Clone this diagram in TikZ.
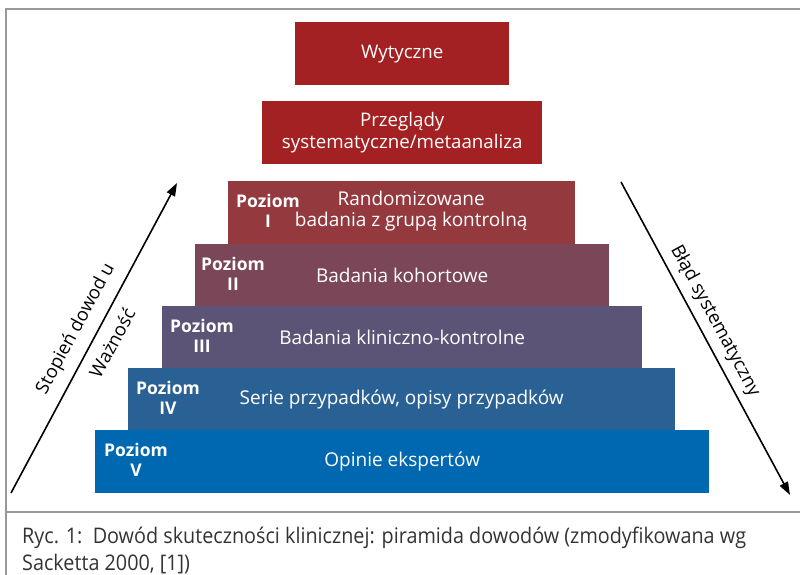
\documentclass[tikz,border=0pt]{standalone}
\usepackage{fontspec}
\setmainfont{Open Sans}
\newfontfamily\capfont[FakeStretch=0.92]{Open Sans}
\usetikzlibrary{arrows.meta}
\definecolor{cTop}{HTML}{A32122}
\definecolor{cI}{HTML}{943A3F}
\definecolor{cII}{HTML}{7B4758}
\definecolor{cIII}{HTML}{5C5476}
\definecolor{cIV}{HTML}{2A6194}
\definecolor{cV}{HTML}{0068B1}
\definecolor{frameGray}{HTML}{999999}
\definecolor{capGray}{HTML}{333333}
\tikzset{
  level/.style={anchor=north west, inner sep=0pt, draw=none, text=white,
    font=\fontsize{18.7}{22}\selectfont, align=center},
  txt/.style={text=white, inner sep=0pt, align=center,
    font=\fontsize{19}{21}\selectfont},
  poz/.style={text=white, inner sep=0pt, align=center,
    font=\fontsize{17.5}{20}\selectfont\bfseries},
  axis/.style={line width=1.6pt, -{Triangle[length=13pt,width=9pt]}},
  axlabel/.style={inner sep=0pt, font=\fontsize{18.5}{21}\selectfont},
  framel/.style={draw=frameGray, line width=1.6pt}
}
\begin{document}
\begin{tikzpicture}[x=1pt,y=-1pt]
\useasboundingbox (0,0) rectangle (800,575);
% frame
\coordinate (ftl) at (6,9);
\coordinate (ftr) at (800,9);
\coordinate (fbl) at (6,575);
\coordinate (csl) at (6,512);
\coordinate (csr) at (800,512);
\draw[framel] (ftr) -- (ftl) -- (fbl);
\draw[framel] (csl) -- (csr);
% boxes
\node[level, fill=cTop, minimum width=214, minimum height=63] (wyt) at (295,22) {Wytyczne};
\node[level, fill=cTop, minimum width=280, minimum height=63] (prz) at (262,101) {Przeglądy\\systematyczne/metaanaliza};
\node[level, fill=cI, minimum width=347, minimum height=63] (p1) at (228,181) {};
\node[level, fill=cII, minimum width=414, minimum height=62.5] (p2) at (195,243.5) {};
\node[level, fill=cIII, minimum width=480, minimum height=62.5] (p3) at (162,306) {};
\node[level, fill=cIV, minimum width=547, minimum height=62] (p4) at (128,368) {};
\node[level, fill=cV, minimum width=614, minimum height=63] (p5) at (95,430) {};
% main texts
\node[txt] (t1) at ([xshift=9.5pt,yshift=2pt]p1.center) {Randomizowane\\badania z grupą kontrolną};
\node[txt] (t2) at (p2.center) {Badania kohortowe};
\node[txt] (t3) at (p3.center) {Badania kliniczno-kontrolne};
\node[txt] (t4) at (p4.center) {Serie przypadków, opisy przypadków};
\node[txt] (t5) at (p5.center) {Opinie ekspertów};
% level labels
\node[poz] (l1) at ([xshift=40pt,yshift=1.5pt]p1.west) {Poziom\\I};
\node[poz] (l2) at ([xshift=38pt,yshift=1.5pt]p2.west) {Poziom\\II};
\node[poz] (l3) at ([xshift=40pt,yshift=1.5pt]p3.west) {Poziom\\III};
\node[poz] (l4) at ([xshift=40pt,yshift=1.5pt]p4.west) {Poziom\\IV};
\node[poz] (l5) at ([xshift=41pt,yshift=1.5pt]p5.west) {Poziom\\V};
% arrows
\coordinate (a1s) at (11,493);
\coordinate (a1e) at (177,183);
\coordinate (a2s) at (621,182);
\coordinate (a2e) at (790,495);
\draw[axis] (a1s) -- (a1e);
\draw[axis] (a2s) -- (a2e);
\node[axlabel, rotate=61.8] (al1) at (76,329) {Stopień dowod u};
\node[axlabel, rotate=61.8] (al2) at (112,343) {Ważność};
\node[axlabel, rotate=-61.6] (ar1) at (715,321) {Błąd systematyczny};
% caption
\node[anchor=north west, inner sep=0pt, align=left, text=capGray,
  font=\capfont\fontsize{21.5}{26.5}\selectfont] (cap) at (22,527)
  {Ryc. 1:\ \ Dowód skuteczności klinicznej: piramida dowodów (zmodyfikowana wg\\Sacketta 2000, [1])};
\end{tikzpicture}
\end{document}
